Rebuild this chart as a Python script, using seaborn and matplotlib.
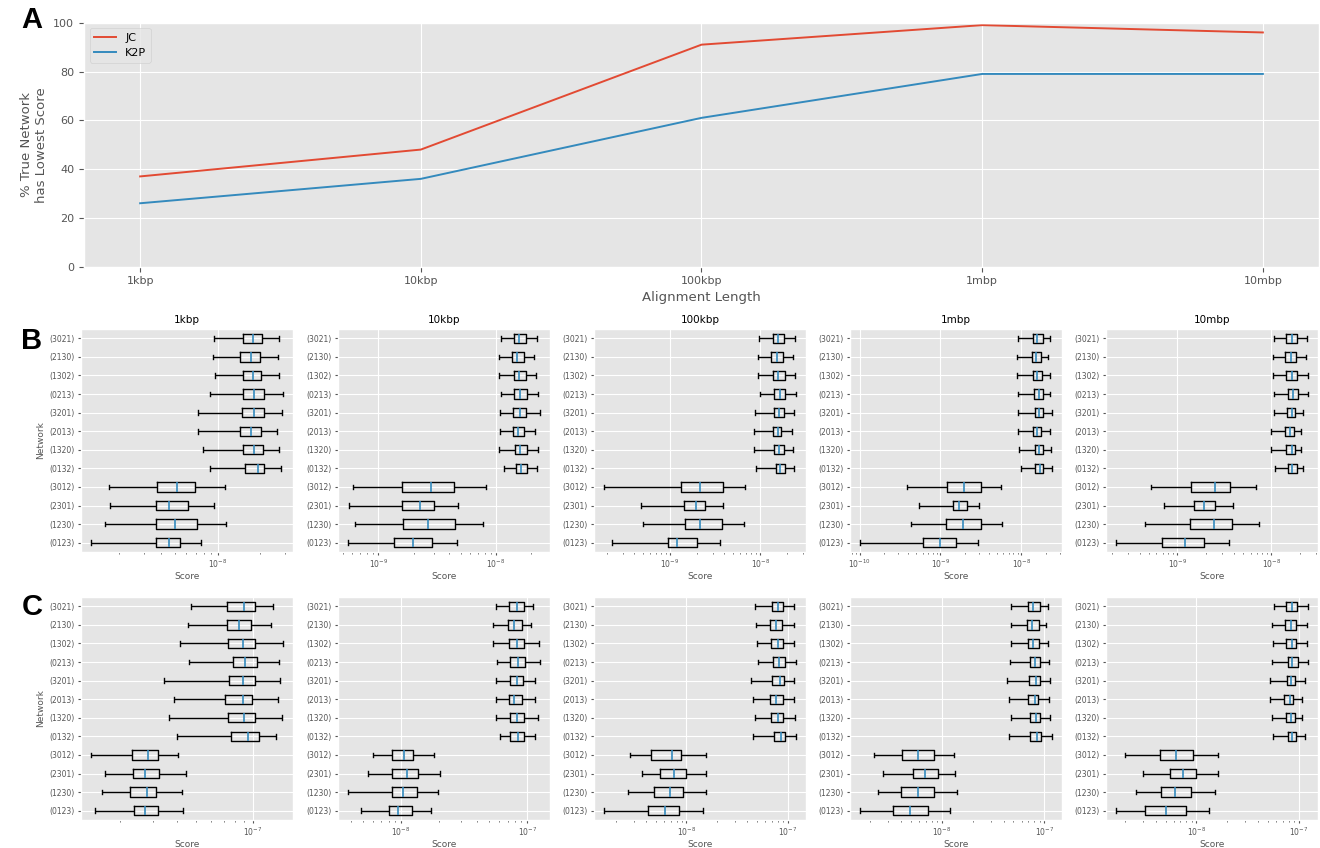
import matplotlib
matplotlib.use("Agg")
import matplotlib.pyplot as plt
import pandas as pd
import seaborn as sns
from matplotlib.ticker import NullFormatter

plt.style.use("ggplot")

# ---- panel A: share of runs where the true network scores lowest ----
LENGTHS = ["1kbp", "10kbp", "100kbp", "1mbp", "10mbp"]
JC_PCT = [37, 48, 91, 99, 96]
K2P_PCT = [26, 36, 61, 79, 79]

# ---- panels B and C: score distributions per candidate network ----
NETWORKS = ["(3021)", "(2130)", "(1302)", "(0213)", "(3201)", "(2013)",
            "(1320)", "(0132)", "(3012)", "(2301)", "(1230)", "(0123)"]

# one tuple per network (order as NETWORKS):
# lower whisker, Q1, median, Q3, upper whisker
B_1KBP = [
    (9.4e-9, 1.52e-8, 1.77e-8, 2.05e-8, 2.73e-8),
    (9.3e-9, 1.45e-8, 1.73e-8, 1.98e-8, 2.69e-8),
    (9.6e-9, 1.50e-8, 1.77e-8, 2.04e-8, 2.73e-8),
    (8.8e-9, 1.52e-8, 1.82e-8, 2.12e-8, 2.92e-8),
    (7.3e-9, 1.49e-8, 1.82e-8, 2.12e-8, 2.87e-8),
    (7.3e-9, 1.43e-8, 1.73e-8, 2.02e-8, 2.65e-8),
    (7.9e-9, 1.50e-8, 1.82e-8, 2.09e-8, 2.73e-8),
    (8.8e-9, 1.57e-8, 1.92e-8, 2.14e-8, 2.79e-8),
    (1.71e-9, 3.72e-9, 5.14e-9, 6.89e-9, 1.13e-8),
    (1.73e-9, 3.66e-9, 4.54e-9, 6.15e-9, 9.4e-9),
    (1.60e-9, 3.66e-9, 5.00e-9, 7.10e-9, 1.15e-8),
    (1.26e-9, 3.66e-9, 4.54e-9, 5.40e-9, 7.6e-9),
]
B_10KBP = [
    (1.11e-8, 1.41e-8, 1.58e-8, 1.80e-8, 2.23e-8),
    (1.06e-8, 1.37e-8, 1.51e-8, 1.73e-8, 2.12e-8),
    (1.07e-8, 1.43e-8, 1.58e-8, 1.80e-8, 2.20e-8),
    (1.11e-8, 1.43e-8, 1.61e-8, 1.84e-8, 2.29e-8),
    (1.09e-8, 1.40e-8, 1.60e-8, 1.81e-8, 2.38e-8),
    (1.09e-8, 1.40e-8, 1.54e-8, 1.73e-8, 2.16e-8),
    (1.07e-8, 1.46e-8, 1.61e-8, 1.84e-8, 2.29e-8),
    (1.18e-8, 1.47e-8, 1.64e-8, 1.84e-8, 2.23e-8),
    (6.1e-10, 1.59e-9, 2.80e-9, 4.40e-9, 8.3e-9),
    (5.7e-10, 1.59e-9, 2.26e-9, 2.96e-9, 4.72e-9),
    (6.4e-10, 1.63e-9, 2.64e-9, 4.46e-9, 7.8e-9),
    (5.5e-10, 1.36e-9, 1.97e-9, 2.85e-9, 4.63e-9),
]
B_100KBP = [
    (9.7e-9, 1.37e-8, 1.58e-8, 1.84e-8, 2.44e-8),
    (9.35e-9, 1.33e-8, 1.54e-8, 1.79e-8, 2.31e-8),
    (9.35e-9, 1.37e-8, 1.58e-8, 1.88e-8, 2.44e-8),
    (1.00e-8, 1.43e-8, 1.66e-8, 1.88e-8, 2.51e-8),
    (8.8e-9, 1.43e-8, 1.62e-8, 1.84e-8, 2.38e-8),
    (8.6e-9, 1.39e-8, 1.58e-8, 1.70e-8, 2.25e-8),
    (8.6e-9, 1.43e-8, 1.62e-8, 1.84e-8, 2.31e-8),
    (9.0e-9, 1.50e-8, 1.66e-8, 1.88e-8, 2.38e-8),
    (1.85e-10, 1.33e-9, 2.14e-9, 3.85e-9, 6.84e-9),
    (4.76e-10, 1.44e-9, 1.93e-9, 2.47e-9, 3.92e-9),
    (5.05e-10, 1.47e-9, 2.14e-9, 3.76e-9, 6.67e-9),
    (2.31e-10, 9.5e-10, 1.19e-9, 1.98e-9, 3.57e-9),
]
B_1MBP = [
    (9.1e-9, 1.38e-8, 1.58e-8, 1.83e-8, 2.25e-8),
    (8.85e-9, 1.35e-8, 1.54e-8, 1.77e-8, 2.12e-8),
    (8.85e-9, 1.38e-8, 1.58e-8, 1.79e-8, 2.25e-8),
    (9.1e-9, 1.43e-8, 1.65e-8, 1.85e-8, 2.25e-8),
    (9.0e-9, 1.47e-8, 1.65e-8, 1.85e-8, 2.38e-8),
    (9.1e-9, 1.38e-8, 1.56e-8, 1.77e-8, 2.29e-8),
    (9.35e-9, 1.47e-8, 1.65e-8, 1.85e-8, 2.31e-8),
    (9.8e-9, 1.49e-8, 1.69e-8, 1.88e-8, 2.42e-8),
    (3.88e-10, 1.21e-9, 1.98e-9, 3.14e-9, 5.63e-9),
    (5.5e-10, 1.44e-9, 1.70e-9, 2.15e-9, 3.03e-9),
    (4.35e-10, 1.18e-9, 1.91e-9, 3.17e-9, 5.79e-9),
    (1.0e-10, 6.1e-10, 1.00e-9, 1.56e-9, 2.91e-9),
]
B_10MBP = [
    (1.06e-8, 1.44e-8, 1.64e-8, 1.86e-8, 2.41e-8),
    (1.04e-8, 1.40e-8, 1.62e-8, 1.82e-8, 2.34e-8),
    (1.04e-8, 1.44e-8, 1.64e-8, 1.86e-8, 2.47e-8),
    (1.07e-8, 1.51e-8, 1.69e-8, 1.91e-8, 2.43e-8),
    (1.07e-8, 1.47e-8, 1.65e-8, 1.77e-8, 2.15e-8),
    (9.9e-9, 1.40e-8, 1.56e-8, 1.73e-8, 2.05e-8),
    (9.9e-9, 1.44e-8, 1.65e-8, 1.77e-8, 2.08e-8),
    (1.09e-8, 1.51e-8, 1.65e-8, 1.85e-8, 2.14e-8),
    (5.28e-10, 1.40e-9, 2.49e-9, 3.67e-9, 6.9e-9),
    (7.2e-10, 1.50e-9, 1.92e-9, 2.49e-9, 3.95e-9),
    (4.53e-10, 1.37e-9, 2.45e-9, 3.79e-9, 7.3e-9),
    (2.21e-10, 6.8e-10, 1.21e-9, 1.94e-9, 3.50e-9),
]

C_1KBP = [
    (4.75e-8, 7.28e-8, 8.95e-8, 1.02e-7, 1.27e-7),
    (4.58e-8, 7.33e-8, 8.39e-8, 9.8e-8, 1.24e-7),
    (4.12e-8, 7.39e-8, 8.83e-8, 1.02e-7, 1.44e-7),
    (4.62e-8, 7.82e-8, 9.12e-8, 1.05e-7, 1.37e-7),
    (3.43e-8, 7.48e-8, 8.83e-8, 1.02e-7, 1.39e-7),
    (3.84e-8, 7.13e-8, 8.83e-8, 9.9e-8, 1.35e-7),
    (3.61e-8, 7.36e-8, 8.95e-8, 1.02e-7, 1.42e-7),
    (4.01e-8, 7.66e-8, 9.35e-8, 1.07e-7, 1.32e-7),
    (1.41e-8, 2.31e-8, 2.80e-8, 3.19e-8, 4.06e-8),
    (1.68e-8, 2.35e-8, 2.70e-8, 3.21e-8, 4.46e-8),
    (1.61e-8, 2.26e-8, 2.78e-8, 3.10e-8, 4.26e-8),
    (1.49e-8, 2.38e-8, 2.70e-8, 3.17e-8, 4.31e-8),
]
C_10KBP = [
    (5.61e-8, 7.22e-8, 8.24e-8, 9.35e-8, 1.11e-7),
    (5.31e-8, 7.01e-8, 7.91e-8, 9.02e-8, 1.07e-7),
    (5.31e-8, 7.22e-8, 8.24e-8, 9.35e-8, 1.23e-7),
    (5.81e-8, 7.35e-8, 8.39e-8, 9.53e-8, 1.27e-7),
    (5.71e-8, 7.35e-8, 8.24e-8, 9.19e-8, 1.16e-7),
    (5.64e-8, 7.13e-8, 7.91e-8, 9.02e-8, 1.16e-7),
    (5.71e-8, 7.31e-8, 8.24e-8, 9.35e-8, 1.21e-7),
    (6.14e-8, 7.35e-8, 8.39e-8, 9.46e-8, 1.16e-7),
    (6.07e-9, 8.55e-9, 1.06e-8, 1.25e-8, 1.84e-8),
    (5.54e-9, 8.55e-9, 1.11e-8, 1.37e-8, 2.04e-8),
    (3.79e-9, 8.55e-9, 1.04e-8, 1.33e-8, 1.98e-8),
    (4.82e-9, 8.00e-9, 9.53e-9, 1.23e-8, 1.73e-8),
]
C_100KBP = [
    (4.71e-8, 7.08e-8, 8.04e-8, 9.07e-8, 1.16e-7),
    (4.82e-8, 6.76e-8, 7.74e-8, 8.87e-8, 1.15e-7),
    (4.93e-8, 6.92e-8, 8.04e-8, 9.07e-8, 1.15e-7),
    (5.04e-8, 7.23e-8, 8.22e-8, 9.48e-8, 1.22e-7),
    (4.31e-8, 7.08e-8, 8.41e-8, 9.27e-8, 1.16e-7),
    (4.57e-8, 6.76e-8, 7.74e-8, 9.07e-8, 1.16e-7),
    (4.71e-8, 6.92e-8, 8.04e-8, 9.07e-8, 1.19e-7),
    (4.51e-8, 7.40e-8, 8.53e-8, 9.48e-8, 1.22e-7),
    (2.74e-9, 4.51e-9, 7.13e-9, 8.93e-9, 1.57e-8),
    (3.65e-9, 5.52e-9, 7.57e-9, 1.00e-8, 1.55e-8),
    (2.62e-9, 4.82e-9, 6.92e-9, 9.28e-9, 1.57e-8),
    (1.52e-9, 4.21e-9, 6.18e-9, 8.53e-9, 1.45e-8),
]
C_1MBP = [
    (4.72e-8, 6.95e-8, 7.71e-8, 9.02e-8, 1.08e-7),
    (4.72e-8, 6.84e-8, 7.54e-8, 8.81e-8, 1.03e-7),
    (4.69e-8, 6.90e-8, 7.71e-8, 8.87e-8, 1.08e-7),
    (4.58e-8, 7.21e-8, 8.13e-8, 9.02e-8, 1.11e-7),
    (4.32e-8, 7.05e-8, 8.30e-8, 9.02e-8, 1.13e-7),
    (4.52e-8, 6.90e-8, 8.13e-8, 8.75e-8, 1.11e-7),
    (4.72e-8, 7.21e-8, 8.30e-8, 9.02e-8, 1.14e-7),
    (4.52e-8, 7.26e-8, 8.49e-8, 9.22e-8, 1.20e-7),
    (2.18e-9, 4.04e-9, 5.82e-9, 8.30e-9, 1.32e-8),
    (2.67e-9, 5.16e-9, 6.79e-9, 9.14e-9, 1.34e-8),
    (2.40e-9, 3.98e-9, 5.82e-9, 8.37e-9, 1.40e-8),
    (1.57e-9, 3.33e-9, 4.86e-9, 7.26e-9, 1.19e-8),
]
C_10MBP = [
    (5.73e-8, 7.43e-8, 8.61e-8, 9.64e-8, 1.24e-7),
    (5.43e-8, 7.32e-8, 8.43e-8, 9.29e-8, 1.20e-7),
    (5.65e-8, 7.54e-8, 8.61e-8, 9.42e-8, 1.21e-7),
    (5.43e-8, 7.77e-8, 8.61e-8, 9.86e-8, 1.24e-7),
    (5.28e-8, 7.60e-8, 8.43e-8, 9.22e-8, 1.15e-7),
    (5.20e-8, 7.21e-8, 8.24e-8, 8.81e-8, 1.08e-7),
    (5.43e-8, 7.43e-8, 8.43e-8, 9.22e-8, 1.08e-7),
    (5.65e-8, 7.77e-8, 8.61e-8, 9.42e-8, 1.15e-7),
    (2.00e-9, 4.45e-9, 6.40e-9, 9.22e-9, 1.62e-8),
    (3.03e-9, 5.56e-9, 7.43e-9, 9.93e-9, 1.61e-8),
    (2.55e-9, 4.55e-9, 6.22e-9, 8.81e-9, 1.52e-8),
    (1.63e-9, 3.18e-9, 5.08e-9, 7.88e-9, 1.33e-8),
]

ROW_B = [B_1KBP, B_10KBP, B_100KBP, B_1MBP, B_10MBP]
ROW_C = [C_1KBP, C_10KBP, C_100KBP, C_1MBP, C_10MBP]

RED = "#E24A33"
BLUE = "#348ABD"


def summary_frame(summary):
    """Five-number summaries as a long table, one row per value."""
    recs = [(net, v) for net, vals in zip(NETWORKS, summary) for v in vals]
    return pd.DataFrame(recs, columns=["Network", "Score"])


W, H = 1320, 848
fig = plt.figure(figsize=(W / 100, H / 100), dpi=100)


def px_axes(left, top, right, bottom):
    return fig.add_axes([left / W, 1 - bottom / H, (right - left) / W, (bottom - top) / H])


# ---- panel A ----
axA = px_axes(84, 22.7, 1319, 266.7)
sns.lineplot(x=LENGTHS, y=JC_PCT, color=RED, linewidth=1.4, label="JC", ax=axA)
sns.lineplot(x=LENGTHS, y=K2P_PCT, color=BLUE, linewidth=1.4, label="K2P", ax=axA)
axA.set_ylim(0, 100)
axA.set_xlabel("Alignment Length", fontsize=9.5, labelpad=3)
axA.set_ylabel("% True Network\nhas Lowest Score", fontsize=9.5)
axA.tick_params(labelsize=8)
axA.legend(loc="upper left", fontsize=8)

# ---- panels B and C ----
LEFTS = [81, 338, 594, 850, 1106]
PANEL_W = 212
ROWS = [(ROW_B, 329, 552, True), (ROW_C, 597, 820, False)]

for row_data, top, bottom, titled in ROWS:
    for i, (summary, length) in enumerate(zip(row_data, LENGTHS)):
        ax = px_axes(LEFTS[i], top, LEFTS[i] + PANEL_W, bottom)
        sns.boxplot(
            data=summary_frame(summary), x="Score", y="Network", order=NETWORKS,
            log_scale=True, whis=(0, 100), width=0.5, fill=False,
            color="black", linecolor="black", linewidth=1.0,
            medianprops={"color": BLUE, "linewidth": 1.2},
            showfliers=False, ax=ax,
        )
        ax.yaxis.grid(True)
        ax.xaxis.grid(True, which="major")
        ax.xaxis.set_minor_formatter(NullFormatter())
        ax.tick_params(axis="y", labelsize=5.5, length=2.5, pad=2)
        ax.tick_params(axis="x", which="major", labelsize=5.5, length=2.5, pad=1.5)
        ax.tick_params(axis="x", which="minor", length=1.5)
        ax.set_xlabel("Score", fontsize=6.5, labelpad=1.5)
        ax.set_ylabel("Network" if i == 0 else "", fontsize=6.5, labelpad=3)
        if titled:
            ax.set_title(length, fontsize=7.5, pad=4)

for letter, x, y in [("A", 32, 20), ("B", 32, 341), ("C", 32, 607)]:
    fig.text(x / W, 1 - y / H, letter, fontsize=21, fontweight="bold",
             family="Liberation Sans", ha="center", va="center", color="black")

fig.savefig("out.png", dpi=100)
